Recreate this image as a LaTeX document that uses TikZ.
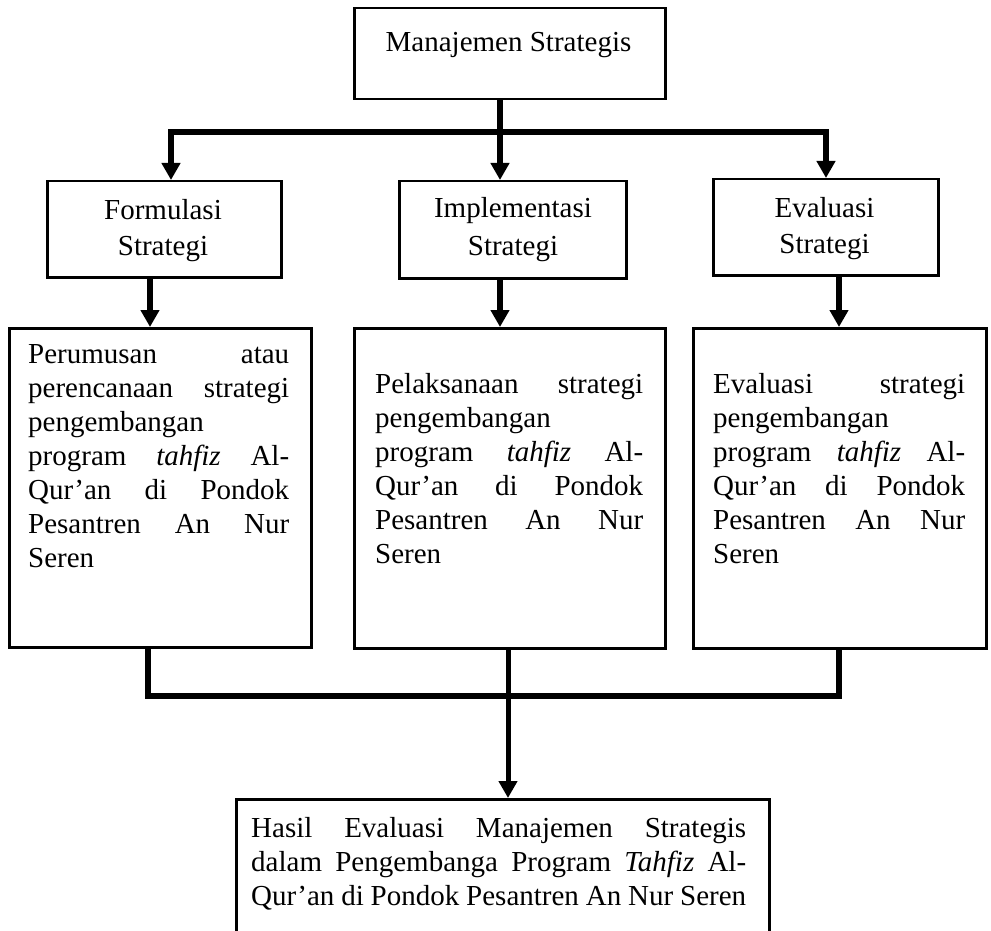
\documentclass[tikz,border=0pt]{standalone}
\usepackage{fontspec}
\setmainfont{Liberation Serif}
\usetikzlibrary{arrows.meta}
\newcommand\jl[1]{\hbox to \linewidth{#1}}
\begin{document}
\begin{tikzpicture}[x=1pt,y=-1pt,
  box/.style={draw, line width=2.5pt, inner sep=0pt, anchor=north west},
  txt/.style={inner sep=0pt, anchor=base west},
  ctr/.style={inner sep=0pt, anchor=base},
  conn/.style={line width=6pt, line join=miter},
  arr/.style={line width=5.5pt, -{Triangle[width=18pt,length=17pt]}},
  every node/.style={font=\fontsize{29}{34}\selectfont}]
\useasboundingbox (0,0) rectangle (991,931);
\clip (0,0) rectangle (991,931);

% boxes
\node[box, minimum width=311pt, minimum height=91pt] (top) at (353,7) {};
\node[box, minimum width=234pt, minimum height=96pt] (f1) at (46,180) {};
\node[box, minimum width=227pt, minimum height=97pt] (f2) at (398,180) {};
\node[box, minimum width=225pt, minimum height=96pt] (f3) at (712,178) {};
\node[box, minimum width=302pt, minimum height=319pt] (p1) at (8,327) {};
\node[box, minimum width=311pt, minimum height=320pt] (p2) at (353,327) {};
\node[box, minimum width=293pt, minimum height=320pt] (p3) at (692,327) {};
\node[box, minimum width=533pt, minimum height=200pt] (hasil) at (235,798) {};

% texts
\node[ctr] (ttop) at (508.5,52) {Manajemen Strategis};
\node[ctr] (tf1) at (163,219) {\parbox[t]{220pt}{\centering Formulasi\\[2pt]Strategi}};
\node[ctr] (tf2) at (513,218) {\parbox[t]{220pt}{\centering Implementasi\\[3pt]Strategi}};
\node[ctr] (tf3) at (824.5,217) {\parbox[t]{220pt}{\centering Evaluasi\\[2pt]Strategi}};

\node[txt] (tp1) at (28,363) {\parbox[t]{261pt}{%
\jl{Perumusan\hfill atau}
\jl{perencanaan\hfill strategi}
\jl{pengembangan\hfill}
\jl{program\hfill \textit{tahfiz}\hfill Al-}
\jl{Qur’an\hfill di\hfill Pondok}
\jl{Pesantren\hfill An\hfill Nur}
\jl{Seren\hfill}}};

\node[txt] (tp2) at (375,393) {\parbox[t]{268pt}{%
\jl{Pelaksanaan\hfill strategi}
\jl{pengembangan\hfill}
\jl{program\hfill \textit{tahfiz}\hfill Al-}
\jl{Qur’an\hfill di\hfill Pondok}
\jl{Pesantren\hfill An\hfill Nur}
\jl{Seren\hfill}}};

\node[txt] (tp3) at (713,393) {\parbox[t]{252pt}{%
\jl{Evaluasi\hfill strategi}
\jl{pengembangan\hfill}
\jl{program\hfill \textit{tahfiz}\hfill Al-}
\jl{Qur’an\hfill di\hfill Pondok}
\jl{Pesantren\hfill An\hfill Nur}
\jl{Seren\hfill}}};

\node[txt] (th) at (251,837) {\parbox[t]{495pt}{%
\jl{Hasil\hfill Evaluasi\hfill Manajemen\hfill Strategis}
\jl{dalam\hfill Pengembanga\hfill Program\hfill \textit{Tahfiz}\hfill Al-}
\jl{Qur’an di Pondok Pesantren An Nur Seren\hfill}}};

% top connectors
\coordinate (jt) at (500,132);
\coordinate (jl) at (171,132);
\coordinate (jr) at (826,132);
\draw[conn] (top.south -| jt) -- (jt);
\draw[conn, line cap=rect] (jl) -- (jr);
\draw[arr] (jl) -- (f1.north -| jl);
\draw[arr] (jt) -- (f2.north -| jt);
\draw[arr] (jr) -- (f3.north -| jr);

% middle arrows
\coordinate (x1) at (150,300);
\coordinate (x2) at (500,300);
\coordinate (x3) at (839,300);
\draw[arr] (f1.south -| x1) -- (p1.north -| x1);
\draw[arr] (f2.south -| x2) -- (p2.north -| x2);
\draw[arr] (f3.south -| x3) -- (p3.north -| x3);

% bottom connectors
\coordinate (bl) at (148,696);
\coordinate (bm) at (508,696);
\coordinate (br) at (839,696);
\draw[conn] (p1.south -| bl) -- (bl) -- (br) -- (p3.south -| br);
\draw[arr, line width=5pt] (p2.south -| bm) -- (hasil.north -| bm);
\end{tikzpicture}
\end{document}
